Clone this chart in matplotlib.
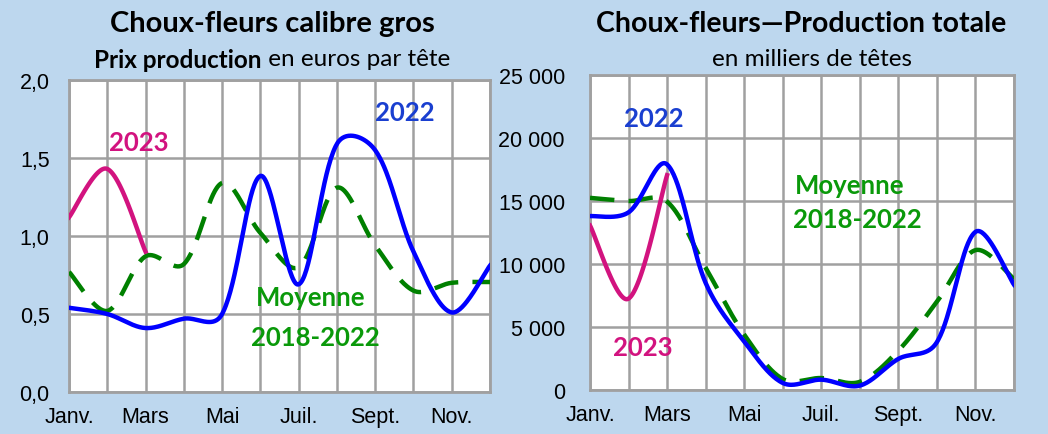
import numpy as np
import matplotlib
matplotlib.use('Agg')
import matplotlib.pyplot as plt

# ---------------- data ----------------
months = list(range(1, 13))
month_labels = ['Janv.', '', 'Mars', '', 'Mai', '', 'Juil.', '', 'Sept.', '', 'Nov.', '']

price_2022 = [0.54, 0.50, 0.41, 0.47, 0.50, 1.385, 0.69, 1.59, 1.55, 0.90, 0.51, 0.81]
price_2023 = [1.12, 1.43, 0.90]
price_avg = [0.77, 0.52, 0.87, 0.82, 1.34, 1.02, 0.80, 1.31, 0.94, 0.65, 0.70, 0.705]
price_ticks = [0, 0.5, 1.0, 1.5, 2.0]
price_ticklabels = ['0,0', '0,5', '1,0', '1,5', '2,0']

prod_2022 = [13800, 14100, 17900, 8500, 3850, 560, 820, 350, 2470, 3800, 12550, 8360]
prod_2023 = [13050, 7250, 17050]
prod_avg = [15250, 15000, 14950, 9700, 4400, 870, 950, 650, 3130, 7000, 11100, 8800]
prod_ticks = [0, 5000, 10000, 15000, 20000, 25000]
prod_ticklabels = ['0', '5 000', '10 000', '15 000', '20 000', '25 000']

# ---------------- style ----------------
BG = '#BDD7EE'
GRID = '#A0A0A0'
BLUE = '#0000FF'
BLUE_TXT = '#1A3FD0'
MAG = '#D2137F'
GREEN_LINE = '#008000'
GREEN_TXT = '#0A990A'
TITLE_FONT = ['Lato', 'DejaVu Sans']
TICK_FONT = ['Liberation Sans', 'DejaVu Sans']
ANN_SIZE = 18.5

W, H = 1048, 435


def smooth(ax, x, y, n=40, alpha=0.5):
    """Excel-like smoothed line: Bezier through the points, tangents scaled by
    the neighbouring chord lengths (power alpha), computed in screen space."""
    pts = ax.transData.transform(np.column_stack([x, y]).astype(float))
    if len(pts) < 3:
        return x, y
    m = len(pts)
    d = np.hypot(*np.diff(pts, axis=0).T) ** alpha
    out = [pts[0][None, :]]
    t = np.linspace(0, 1, n)[1:, None]
    for i in range(m - 1):
        p1, p2 = pts[i], pts[i + 1]
        if i == 0:
            c1 = p1 + (p2 - p1) / 6
        else:
            T = pts[i + 1] - pts[i - 1]
            c1 = p1 + T * d[i] / (d[i - 1] + d[i]) / 3
        if i == m - 2:
            c2 = p2 - (p2 - p1) / 6
        else:
            T = pts[i + 2] - pts[i]
            c2 = p2 - T * d[i] / (d[i] + d[i + 1]) / 3
        seg = ((1 - t)**3) * p1 + 3 * ((1 - t)**2) * t * c1 + 3 * (1 - t) * t**2 * c2 + t**3 * p2
        out.append(seg)
    disp = np.vstack(out)
    data = ax.transData.inverted().transform(disp)
    return data[:, 0], data[:, 1]


fig = plt.figure(figsize=(W / 100, H / 100), dpi=100, facecolor=BG)


def make_axes(px_left, px_top, px_right, px_bottom):
    ax = fig.add_axes([px_left / W, 1 - px_bottom / H,
                       (px_right - px_left) / W, (px_bottom - px_top) / H])
    ax.set_facecolor('white')
    for s in ax.spines.values():
        s.set_color(GRID)
        s.set_linewidth(2.0)
    ax.grid(True, color=GRID, linewidth=1.8)
    ax.set_axisbelow(True)
    ax.tick_params(length=0)
    ax.set_xlim(1, 12)
    ax.set_xticks(months)
    ax.set_xticklabels(month_labels, fontsize=15.5, family=TICK_FONT)
    return ax


def label(ax, x, y, s, color):
    ax.text(x, y, s, transform=ax.transAxes, color=color, fontsize=ANN_SIZE,
            fontweight='bold', family=TITLE_FONT, ha='center', va='center')


# ---------- left panel ----------
ax1 = make_axes(69, 81, 490, 393)
ax1.set_ylim(0, 2)
ax1.set_yticks(price_ticks)
ax1.set_yticklabels(price_ticklabels, fontsize=15.5, family=TICK_FONT)
ax1.tick_params(axis='y', pad=14)
ax1.tick_params(axis='x', pad=10)

xs, ys = smooth(ax1, months, price_avg)
ax1.plot(xs, ys, color=GREEN_LINE, lw=3.2, dashes=(5.5, 3.2), dash_capstyle='butt', zorder=3)
xs, ys = smooth(ax1, months, price_2022)
ax1.plot(xs, ys, color=BLUE, lw=3.2, zorder=4)
xs, ys = smooth(ax1, months[:len(price_2023)], price_2023)
ax1.plot(xs, ys, color=MAG, lw=3.2, zorder=5)

label(ax1, 0.166, 0.80, '2023', MAG)
label(ax1, 0.798, 0.896, '2022', BLUE_TXT)
label(ax1, 0.573, 0.305, 'Moyenne', GREEN_TXT)
label(ax1, 0.586, 0.175, '2018-2022', GREEN_TXT)

# ---------- right panel ----------
ax2 = make_axes(590, 76, 1014, 391)
ax2.set_ylim(0, 25000)
ax2.set_yticks(prod_ticks)
ax2.set_yticklabels(prod_ticklabels, fontsize=15.5, family=TICK_FONT)
ax2.tick_params(axis='y', pad=18)
ax2.tick_params(axis='x', pad=10)

xs, ys = smooth(ax2, months, prod_avg)
ax2.plot(xs, ys, color=GREEN_LINE, lw=3.2, dashes=(5.5, 3.2), dash_capstyle='butt', zorder=3)
xs, ys = smooth(ax2, months, prod_2022)
ax2.plot(xs, ys, color=BLUE, lw=3.2, zorder=4)
xs, ys = smooth(ax2, months[:len(prod_2023)], prod_2023)
ax2.plot(xs, ys, color=MAG, lw=3.2, zorder=5)

label(ax2, 0.150, 0.862, '2022', BLUE_TXT)
label(ax2, 0.125, 0.137, '2023', MAG)
label(ax2, 0.613, 0.651, 'Moyenne', GREEN_TXT)
label(ax2, 0.630, 0.543, '2018-2022', GREEN_TXT)

# ---------- titles ----------
fig.text(272 / W, 1 - 24 / H, 'Choux-fleurs calibre gros', fontsize=21, fontweight='bold',
         family=TITLE_FONT, ha='center', va='center')
fig.text(801 / W, 1 - 24 / H, 'Choux-fleurs\u2014Production totale', fontsize=20.5,
         fontweight='bold', family=TITLE_FONT, ha='center', va='center')
fig.text(812 / W, 1 - 60 / H, 'en milliers de têtes', fontsize=17.5,
         family=TITLE_FONT, ha='center', va='center')

# mixed-weight subtitle on the left
renderer = fig.canvas.get_renderer()
parts = [('Prix production', 'bold'), (' en euros par tête', 'normal')]
texts = [fig.text(0, 1 - 60 / H, s, fontsize=17.5, fontweight=w, family=TITLE_FONT,
                  ha='left', va='center') for s, w in parts]
widths = [t.get_window_extent(renderer).width for t in texts]
x0 = 272 - sum(widths) / 2
for t, w in zip(texts, widths):
    t.set_x(x0 / W)
    x0 += w

fig.savefig('out.png', dpi=100, facecolor=BG)
